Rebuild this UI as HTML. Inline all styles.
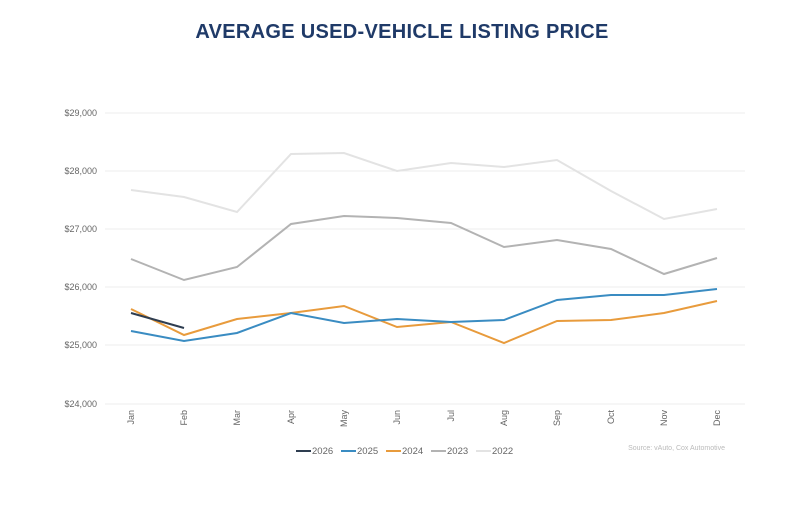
<!DOCTYPE html><html><head><style>body{margin:0;background:#fff}svg{display:block}</style></head><body>
<svg width="800" height="510" xmlns="http://www.w3.org/2000/svg" font-family="Liberation Sans, sans-serif">
<rect width="800" height="510" fill="#fff"/>
<text x="402" y="38" text-anchor="middle" font-size="20" font-weight="bold" fill="#1f3a68" letter-spacing="0.3">AVERAGE USED-VEHICLE LISTING PRICE</text>
<g stroke="#ececec" stroke-width="1">
<line x1="105" x2="745" y1="113" y2="113"/><line x1="105" x2="745" y1="171" y2="171"/><line x1="105" x2="745" y1="229" y2="229"/><line x1="105" x2="745" y1="287" y2="287"/><line x1="105" x2="745" y1="345" y2="345"/><line x1="105" x2="745" y1="404" y2="404"/></g>
<g font-size="9" fill="#666" text-anchor="end">
<text x="97" y="116">$29,000</text><text x="97" y="174">$28,000</text><text x="97" y="232">$27,000</text><text x="97" y="290">$26,000</text><text x="97" y="348">$25,000</text><text x="97" y="407">$24,000</text></g>
<g font-size="9" fill="#666" text-anchor="end">
<text transform="translate(134,410) rotate(-90)">Jan</text><text transform="translate(187,410) rotate(-90)">Feb</text><text transform="translate(240,410) rotate(-90)">Mar</text><text transform="translate(294,410) rotate(-90)">Apr</text><text transform="translate(347,410) rotate(-90)">May</text><text transform="translate(400,410) rotate(-90)">Jun</text><text transform="translate(454,410) rotate(-90)">Jul</text><text transform="translate(507,410) rotate(-90)">Aug</text><text transform="translate(560,410) rotate(-90)">Sep</text><text transform="translate(614,410) rotate(-90)">Oct</text><text transform="translate(667,410) rotate(-90)">Nov</text><text transform="translate(720,410) rotate(-90)">Dec</text></g>
<g fill="none" stroke-width="2">
<polyline stroke="#e3e3e3" points="131,190 184,197 237,212 291,154 344,153 397,171 451,163 504,167 557,160 611,191 664,219 717,209"/>
<polyline stroke="#b3b3b3" points="131,259 184,280 237,267 291,224 344,216 397,218 451,223 504,247 557,240 611,249 664,274 717,258"/>
<polyline stroke="#e89b3c" points="131,309 184,335 237,319 291,313 344,306 397,327 451,322 504,343 557,321 611,320 664,313 717,301"/>
<polyline stroke="#3a8cc2" points="131,331 184,341 237,333 291,313 344,323 397,319 451,322 504,320 557,300 611,295 664,295 717,289"/>
<polyline stroke="#2e3d50" points="131,313 184,328"/></g>
<g font-size="9.5" fill="#666">
<line x1="296" x2="311" y1="451" y2="451" stroke="#2e3d50" stroke-width="2"/><text x="312" y="454">2026</text>
<line x1="341" x2="356" y1="451" y2="451" stroke="#3a8cc2" stroke-width="2"/><text x="357" y="454">2025</text>
<line x1="386" x2="401" y1="451" y2="451" stroke="#e89b3c" stroke-width="2"/><text x="402" y="454">2024</text>
<line x1="431" x2="446" y1="451" y2="451" stroke="#b3b3b3" stroke-width="2"/><text x="447" y="454">2023</text>
<line x1="476" x2="491" y1="451" y2="451" stroke="#e3e3e3" stroke-width="2"/><text x="492" y="454">2022</text>
<text x="725" y="450" text-anchor="end" font-size="7" fill="#bbb">Source: vAuto, Cox Automotive</text></g>
</svg></body></html>
